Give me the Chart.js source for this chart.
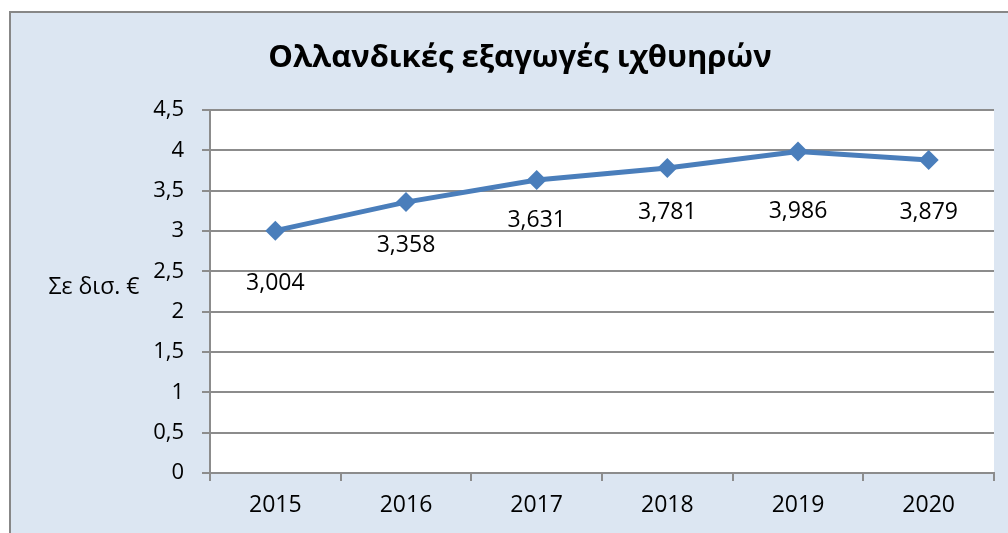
<!DOCTYPE html>
<html>
<head>
<meta charset="utf-8">
<script src="https://cdn.jsdelivr.net/npm/chart.js@4.4.0/dist/chart.umd.min.js"></script>
<style>
  html, body { margin: 0; padding: 0; background: #ffffff; }
  #wrap { width: 1008px; height: 533px; position: relative; }
</style>
</head>
<body>
<div id="wrap"><canvas id="fishChart" width="1008" height="533"></canvas></div>
<script>
var years = ["2015", "2016", "2017", "2018", "2019", "2020"];
var exportValues = [3.004, 3.358, 3.631, 3.781, 3.986, 3.879];
var valueLabels = ["3,004", "3,358", "3,631", "3,781", "3,986", "3,879"];
var chartTitle = "Ολλανδικές εξαγωγές ιχθυηρών";
var yAxisTitle = "Σε δισ. €";

// label offsets below each point (px), placed by hand in the original
var labelDrop = [53, 43, 40, 44, 60, 52];

var fontFamily = "'Open Sans', 'Noto Sans', sans-serif";

var framePlugin = {
    id: 'frame',
    beforeDraw: function(chart) {
        var ctx = chart.ctx;
        var area = chart.chartArea;
        ctx.save();
        ctx.fillStyle = "#dce6f2";
        ctx.fillRect(9, 11, chart.width, chart.height);
        ctx.strokeStyle = "#878787";
        ctx.lineWidth = 2;
        ctx.beginPath();
        ctx.moveTo(10, chart.height + 5);
        ctx.lineTo(10, 12);
        ctx.lineTo(chart.width + 5, 12);
        ctx.stroke();
        ctx.fillStyle = "#ffffff";
        ctx.fillRect(area.left, area.top, area.right - area.left, area.bottom - area.top);

        ctx.fillStyle = "#000000";
        ctx.textAlign = "center";
        ctx.textBaseline = "middle";
        ctx.font = "bold 31px " + fontFamily;
        ctx.fillText(chartTitle, 520, 58);
        ctx.font = "23px " + fontFamily;
        ctx.fillText(yAxisTitle, 94, 287);
        ctx.restore();
    },
    afterDatasetsDraw: function(chart) {
        var ctx = chart.ctx;
        var meta = chart.getDatasetMeta(0);
        ctx.save();
        ctx.fillStyle = "#000000";
        ctx.textAlign = "center";
        ctx.textBaseline = "middle";
        ctx.font = "23px " + fontFamily;
        meta.data.forEach(function(pt, i) {
            ctx.fillText(valueLabels[i], pt.x, pt.y + labelDrop[i]);
        });
        ctx.restore();
    }
};

var gridColor = "#8c8c8c";

var fishChart = new Chart(document.getElementById("fishChart"), {
    type: 'line',
    data: {
        labels: years,
        datasets: [{
            data: exportValues,
            borderColor: "#4a7ebb",
            backgroundColor: "#4a7ebb",
            borderWidth: 5,
            pointStyle: 'rectRot',
            pointRadius: 10,
            pointHoverRadius: 10,
            pointBorderWidth: 0,
            tension: 0,
            fill: false
        }]
    },
    options: {
        responsive: false,
        animation: false,
        events: [],
        layout: { padding: { left: 10, right: 14, top: 110, bottom: 10 } },
        plugins: {
            legend: { display: false },
            tooltip: { enabled: false }
        },
        scales: {
            x: {
                offset: true,
                grid: {
                    offset: true,
                    drawOnChartArea: false,
                    drawTicks: true,
                    tickLength: 8,
                    color: gridColor,
                    lineWidth: 2
                },
                border: { color: gridColor, width: 2 },
                ticks: {
                    color: "#000000",
                    font: { family: fontFamily, size: 23 },
                    padding: 11
                },
                afterFit: function(scale) { scale.height = 50; }
            },
            y: {
                min: 0,
                max: 4.5,
                ticks: {
                    stepSize: 0.5,
                    color: "#000000",
                    font: { family: fontFamily, size: 22 },
                    padding: 18,
                    callback: function(v) { return String(v).replace('.', ','); }
                },
                grid: {
                    color: gridColor,
                    lineWidth: 2,
                    tickLength: 8
                },
                border: { color: gridColor, width: 2 },
                afterFit: function(scale) { scale.width = 200; }
            }
        }
    },
    plugins: [framePlugin]
});
</script>
</body>
</html>
